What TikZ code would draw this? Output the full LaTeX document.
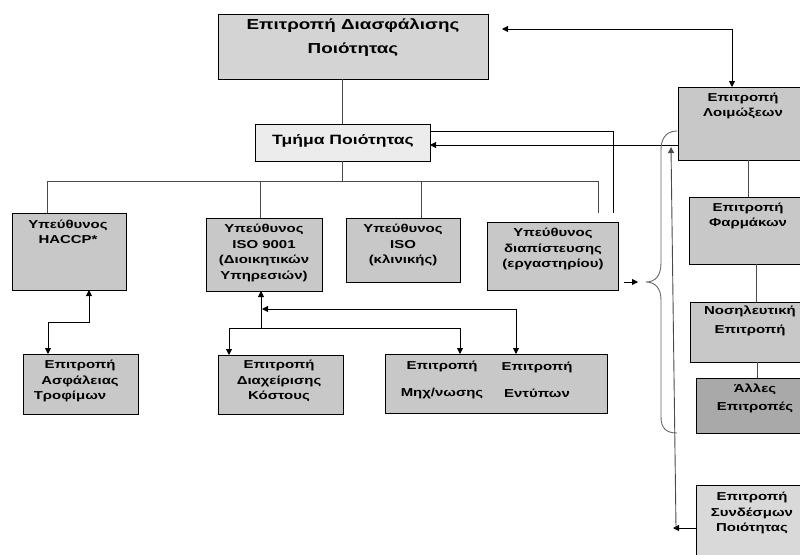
\documentclass[tikz,border=0pt]{standalone}
\usepackage{fontspec}
\setmainfont{Liberation Sans}[FakeStretch=1.3]
\usetikzlibrary{arrows.meta}
\definecolor{boxgray}{HTML}{C8C8C8}
\definecolor{topgray}{HTML}{D4D4D4}
\definecolor{palegray}{HTML}{ECECEC}
\definecolor{lightgray2}{HTML}{D9D9D9}
\definecolor{darkgray2}{HTML}{A9A9A9}
\definecolor{wire}{HTML}{4A4A4A}
\tikzset{
  gbox/.style={draw=black, line width=0.9pt, inner sep=0pt, outer sep=0pt},
  txt/.style={font=\bfseries\fontsize{11.5}{15.5}\selectfont, align=center, inner sep=0pt},
  tree/.style={draw=wire, line width=0.9pt},
  arr/.style={draw=black, line width=0.9pt, -{Triangle[length=6pt,width=6pt]}},
  arrs/.style={draw=black, line width=0.9pt, {Triangle[length=6pt,width=6pt]}-{Triangle[length=6pt,width=6pt]}}
}
% box from corner (x1,y1) to (x2,y2), with a fill colour
\newcommand\gbox[6]{%
  \node[gbox, fill=#6, minimum width={#4pt-#2pt}, minimum height={#5pt-#3pt}]
    (#1) at ({(#2+#4)/2},{(#3+#5)/2}) {};}
\begin{document}
\begin{tikzpicture}[x=1pt,y=-1pt]
\fill[white] (0,0) rectangle (800,554);
\useasboundingbox (0,0) rectangle (800,554);

% boxes
\gbox{top}{218}{14}{488}{79}{topgray}
\gbox{tmima}{255}{124}{430}{161}{palegray}
\gbox{haccp}{12}{213}{126}{290}{boxgray}
\gbox{isoa}{206}{218}{322}{291}{boxgray}
\gbox{isok}{346}{218}{460}{282}{boxgray}
\gbox{diap}{487}{222}{618}{290}{boxgray}
\gbox{asfal}{23}{354}{138}{414}{boxgray}
\gbox{kost}{218}{355}{343}{414}{boxgray}
\gbox{mix}{385}{354}{607}{413}{boxgray}
\gbox{loim}{678}{87}{810}{160}{boxgray}
\gbox{farm}{689}{197}{810}{264}{boxgray}
\gbox{nosil}{690}{302}{810}{362}{boxgray}
\gbox{alles}{696}{378}{810}{433}{darkgray2}
\gbox{synd}{696}{485}{810}{560}{lightgray2}

% texts
\node[txt, font=\bfseries\fontsize{14.5}{24}\selectfont] (topt) at (353,38) {Επιτροπή Διασφάλισης\\Ποιότητας};
\node[txt, font=\bfseries\fontsize{13.5}{16}\selectfont] (tmimat) at (343,141) {Τμήμα Ποιότητας};
\node[txt] (haccpt) at (68,232) {Υπεύθυνος\\HACCP*};
\node[txt] (isoat) at (264,253) {Υπεύθυνος\\ISO 9001\\(Διοικητικών\\Υπηρεσιών)};
\node[txt] (isokt) at (403,245) {Υπεύθυνος\\ISO\\(κλινικής)};
\node[txt] (diapt) at (553,249) {Υπεύθυνος\\διαπίστευσης\\(εργαστηρίου)};
\node[txt] (asfalt) at (80,381) {Επιτροπή\\Ασφάλειας\\\hspace*{-20pt}Τροφίμων};
\node[txt] (kostt) at (279,381) {Επιτροπή\\Διαχείρισης\\Κόστους};
\node[txt, font=\bfseries\fontsize{11.5}{27}\selectfont] (mixt) at (442,380) {Επιτροπή\\Μηχ/νωσης};
\node[txt, font=\bfseries\fontsize{11.5}{27}\selectfont] (entt) at (537,380) {Επιτροπή\\Εντύπων};
\node[txt] (loimt) at (743,106) {Επιτροπή\\Λοιμώξεων};
\node[txt] (farmt) at (748,216) {Επιτροπή\\Φαρμάκων};
\node[txt, font=\bfseries\fontsize{11.5}{19}\selectfont] (nosilt) at (750,321) {Νοσηλευτική\\Επιτροπή};
\node[txt, font=\bfseries\fontsize{11.5}{18}\selectfont] (allest) at (755,398) {Άλλες\\Επιτροπές};
\node[txt] (syndt) at (752,513) {Επιτροπή\\Συνδέσμων\\Ποιότητας};

% free ends of connectors
\coordinate (busL) at (47,181);
\coordinate (busR) at (598,181);
\coordinate (endR) at (598,213);
\coordinate (endT) at (613,213);
\coordinate (topArr) at (502,29);
\coordinate (corner) at (732,29);
\coordinate (haccpMid) at (89,322);
\coordinate (asfMid) at (48,322);
\coordinate (isoJoin) at (261,328);
\coordinate (kostMid) at (229,328);
\coordinate (mixMid) at (460,328);
\coordinate (isoTip) at (262,309);
\coordinate (entMid) at (516,309);
\coordinate (diapOut) at (624,282);
\coordinate (braceIn) at (638,282);
\coordinate (syndCorner) at (676,528);
\coordinate (loimUp) at (671,147);

% tree of the quality unit
\draw[tree] (tmima.north |- top.south) -- (tmima.north);
\draw[tree] (tmima.south) -- (tmima.south |- busL);
\draw[tree] (haccp.north -| busL) -- (busL) -- (busR) -- (endR);
\draw[tree] (260,181) -- (260,218);
\draw[tree] (421,181) -- (421,218);
\draw[draw=black, line width=0.9pt] ([yshift=-7pt]tmima.north east) -| (endT);

% arrows around the quality unit
\draw[arr] (loim.west |- 0,145) -- (tmima.east |- 0,145);
\draw[arrs] (topArr) -- (corner) -- ([xshift=-12pt]loim.north);

% committees on the right
\draw[tree] (farm.north -| 748,0) -- (loim.south -| 748,0);
\draw[tree] (nosil.north -| 756,0) -- (farm.south -| 756,0);
\draw[tree] (alles.north -| 757,0) -- (nosil.south -| 757,0);

% HACCP and food safety
\draw[arrs] (haccp.south -| haccpMid) -- (haccpMid) -- (asfMid) -- (asfal.north -| asfMid);

% ISO 9001 and its committees
\draw[arr] (isoJoin) -- (isoa.south -| isoJoin);
\draw[arrs] (kost.north -| kostMid) -- (kostMid) -- (mixMid) -- (mix.north -| mixMid);
\draw[arrs] (isoTip) -- (entMid) -- (mix.north -| entMid);

% accreditation to the committees brace
\draw[arr] (diapOut) -- (braceIn);
\draw[draw=gray!80!black, line width=0.9pt]
  (677,131) .. controls (665,131) and (661,140) .. (661,150) -- (661,263)
  .. controls (661,276) and (655,282) .. (646,282)
  .. controls (655,282) and (661,288) .. (661,300) -- (661,417)
  .. controls (661,428) and (666,433) .. (677,433);

% quality liaisons
\draw[arr] (synd.west |- syndCorner) -- ([xshift=-3pt]syndCorner);
\draw[arr, draw=wire] (syndCorner) -- (loimUp);
\end{tikzpicture}
\end{document}
